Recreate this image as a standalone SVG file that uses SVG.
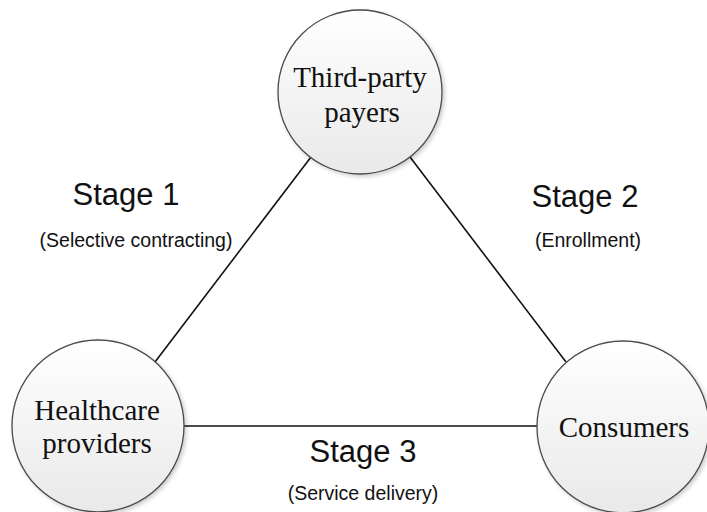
<svg xmlns="http://www.w3.org/2000/svg" width="707" height="512" viewBox="0 0 707 512">
<defs>
<linearGradient id="g" x1="0" y1="0" x2="0" y2="1">
<stop offset="0" stop-color="#ffffff"/>
<stop offset="1" stop-color="#e9e9e9"/>
</linearGradient>
<filter id="sh" x="-20%" y="-20%" width="140%" height="140%">
<feGaussianBlur in="SourceAlpha" stdDeviation="2"/>
<feOffset dx="1.5" dy="2" result="b"/>
<feComponentTransfer><feFuncA type="linear" slope="0.2"/></feComponentTransfer>
<feMerge><feMergeNode/><feMergeNode in="SourceGraphic"/></feMerge>
</filter>
</defs>
<style>
.node{fill:url(#g);stroke:#4a4a4a;stroke-width:1.3;filter:url(#sh)}
.lbl{font-family:"Liberation Serif","Times New Roman",serif;font-size:29px;fill:#111;text-anchor:middle}
.stage{font-family:"Liberation Sans",Arial,sans-serif;font-size:31px;fill:#111;text-anchor:middle}
.sub{font-family:"Liberation Sans",Arial,sans-serif;font-size:19.5px;fill:#111;text-anchor:middle}
.edge{stroke:#111;stroke-width:1.6;fill:none}
</style>
<rect width="707" height="512" fill="#ffffff"/>
<g id="connectors">
<line class="edge" x1="155" y1="362" x2="311" y2="157"/>
<line class="edge" x1="566" y1="362" x2="410" y2="157"/>
<line class="edge" x1="184" y1="426" x2="537" y2="426"/>
</g>
<g id="third-party-payers">
<circle class="node" cx="360" cy="92" r="82"/>
<text class="lbl" x="360" y="87">Third-party</text>
<text class="lbl" x="362" y="122">payers</text>
</g>
<g id="healthcare-providers">
<circle class="node" cx="98" cy="426" r="86"/>
<text class="lbl" x="97" y="420">Healthcare</text>
<text class="lbl" x="97" y="453">providers</text>
</g>
<g id="consumers">
<circle class="node" cx="623" cy="427" r="86"/>
<text class="lbl" x="624" y="437">Consumers</text>
</g>
<g id="labels">
<text class="stage" x="126" y="205">Stage 1</text>
<text class="sub" x="136" y="247">(Selective contracting)</text>
<text class="stage" x="585" y="207">Stage 2</text>
<text class="sub" x="588" y="247">(Enrollment)</text>
<text class="stage" x="363" y="462">Stage 3</text>
<text class="sub" x="363" y="500">(Service delivery)</text>
</g>
</svg>
